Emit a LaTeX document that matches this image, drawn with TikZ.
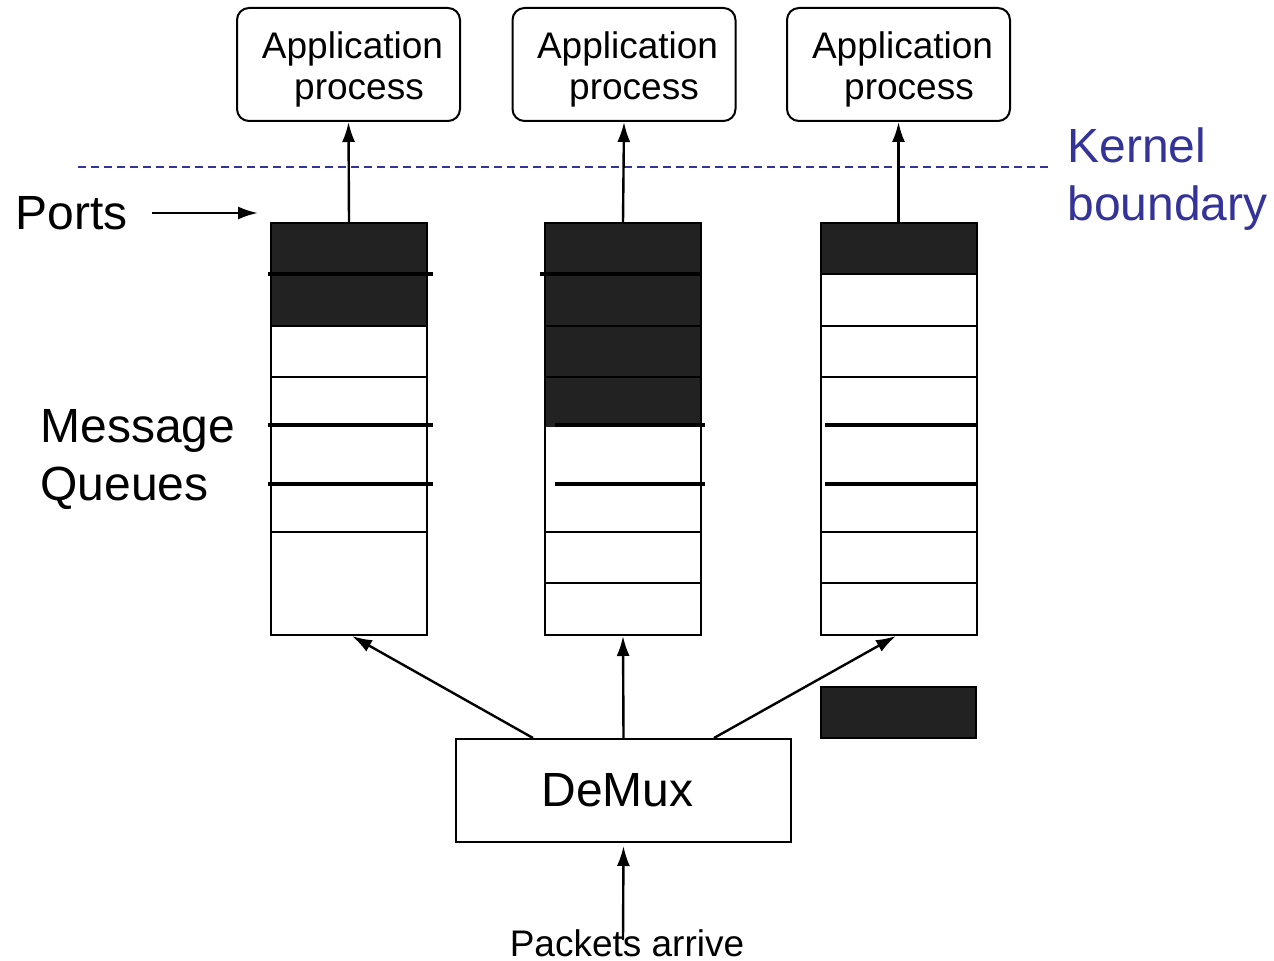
\documentclass[tikz,border=0pt]{standalone}
\usepackage{fontspec}
\setmainfont{Liberation Sans}
\usetikzlibrary{arrows.meta}
\definecolor{kernelblue}{HTML}{333399}
\definecolor{slotdark}{HTML}{222222}

\begin{document}
\begin{tikzpicture}[x=0.5pt,y=-0.5pt,
  appfont/.style={font=\fontsize{18.5}{20.5}\selectfont},
  bigfont/.style={font=\fontsize{24}{29}\selectfont},
  appbox/.style={draw, line width=1pt, rounded corners=6pt, minimum width=111.5pt,
    minimum height=56.5pt, inner sep=0pt},
  apptext/.style={align=center, inner sep=0pt, appfont},
  queue/.style={draw, line width=1pt, minimum width=78pt, minimum height=206pt, inner sep=0pt},
  label/.style={inner sep=0pt, bigfont, align=left},
  flow/.style={line width=1.2pt, -{Latex[length=10pt,width=6.5pt]}},
  slot/.style={line width=1pt},
  marker/.style={line width=1.6pt},
  kernel/.style={draw=kernelblue, line width=0.7pt, dash pattern=on 4pt off 2.5pt}
]
\useasboundingbox (0,0) rectangle (1274,961);

% application processes above the kernel boundary
\node[appbox] (app1) at (348.5,64.5) {};
\node[appbox] (app2) at (624,64.5) {};
\node[appbox] (app3) at (898.5,64.5) {};
\node[apptext] (app1t) at (352.5,69) {Application\\\hspace*{6.5pt}process};
\node[apptext] (app2t) at (627.5,69) {Application\\\hspace*{6.5pt}process};
\node[apptext] (app3t) at (902.5,69) {Application\\\hspace*{6.5pt}process};

% kernel boundary
\coordinate (kbL) at (78,167);
\coordinate (kbR) at (1050,167);
\draw[kernel] (kbL) -- (kbR);
\node[label, text=kernelblue, anchor=west] (kb) at (1067,179) {Kernel\\boundary};

% occupied slots of the queues
\fill[slotdark] (271,223) rectangle (427,326);
\fill[slotdark] (546,223) rectangle (700,427);
\fill[slotdark] (821,223) rectangle (976,274);

% message queues
\node[queue] (q1) at (349,429) {};
\node[queue] (q2) at (623,429) {};
\node[queue] (q3) at (898.5,429) {};

% slot separators
\foreach \y in {326,377,532} \draw[slot] (271,\y) -- (427,\y);
\foreach \y in {274,326,377,532,583} \draw[slot] (546,\y) -- (700,\y);
\foreach \y in {274,326,377,532,583} \draw[slot] (821,\y) -- (976,\y);

% marker lines across the queues
\draw[marker] (268,274) -- (433,274);
\draw[marker] (268,425) -- (433,425);
\draw[marker] (268,484) -- (433,484);
\draw[marker] (540,274) -- (700,274);
\draw[marker] (555,425) -- (705,425);
\draw[marker] (555,484) -- (705,484);
\draw[marker] (825,425) -- (976,425);
\draw[marker] (825,484) -- (976,484);

% queues deliver to the processes
\draw[flow] (q1.north) -- (app1.south);
\draw[flow] (q2.north) -- (app2.south);
\draw[flow] (q3.north) -- (app3.south);

% side labels
\node[label, anchor=west] (ports) at (15,213) {Ports};
\coordinate (portTip) at (258,213);
\draw[flow] ([xshift=12pt]ports.east) -- (portTip);
\node[label, anchor=west] (mq) at (40,460) {Message\\Queues};

% demultiplexer
\node[draw, line width=1pt, minimum width=167.5pt, minimum height=51.5pt, inner sep=0pt, bigfont]
  (demux) at (623.5,790.5) {DeMux\hspace*{6pt}};
\draw[flow] ([xshift=-45.25pt]demux.north) -- ([xshift=1.5pt]q1.south);
\draw[flow] (demux.north) -- (q2.south);
\draw[flow] ([xshift=45.25pt]demux.north) -- ([xshift=-1.25pt]q3.south);

% packet in transit
\node[draw, fill=slotdark, line width=1pt, minimum width=77.5pt, minimum height=25.5pt, inner sep=0pt]
  (pkt) at (898.5,712.5) {};

% incoming packets
\node[appfont, inner sep=0pt, anchor=base] (arrive) at (627,956) {Packets arrive};
\coordinate (inStart) at (623,940);
\draw[flow] (inStart) -- ([yshift=-1.5pt]demux.south);
\end{tikzpicture}
\end{document}
